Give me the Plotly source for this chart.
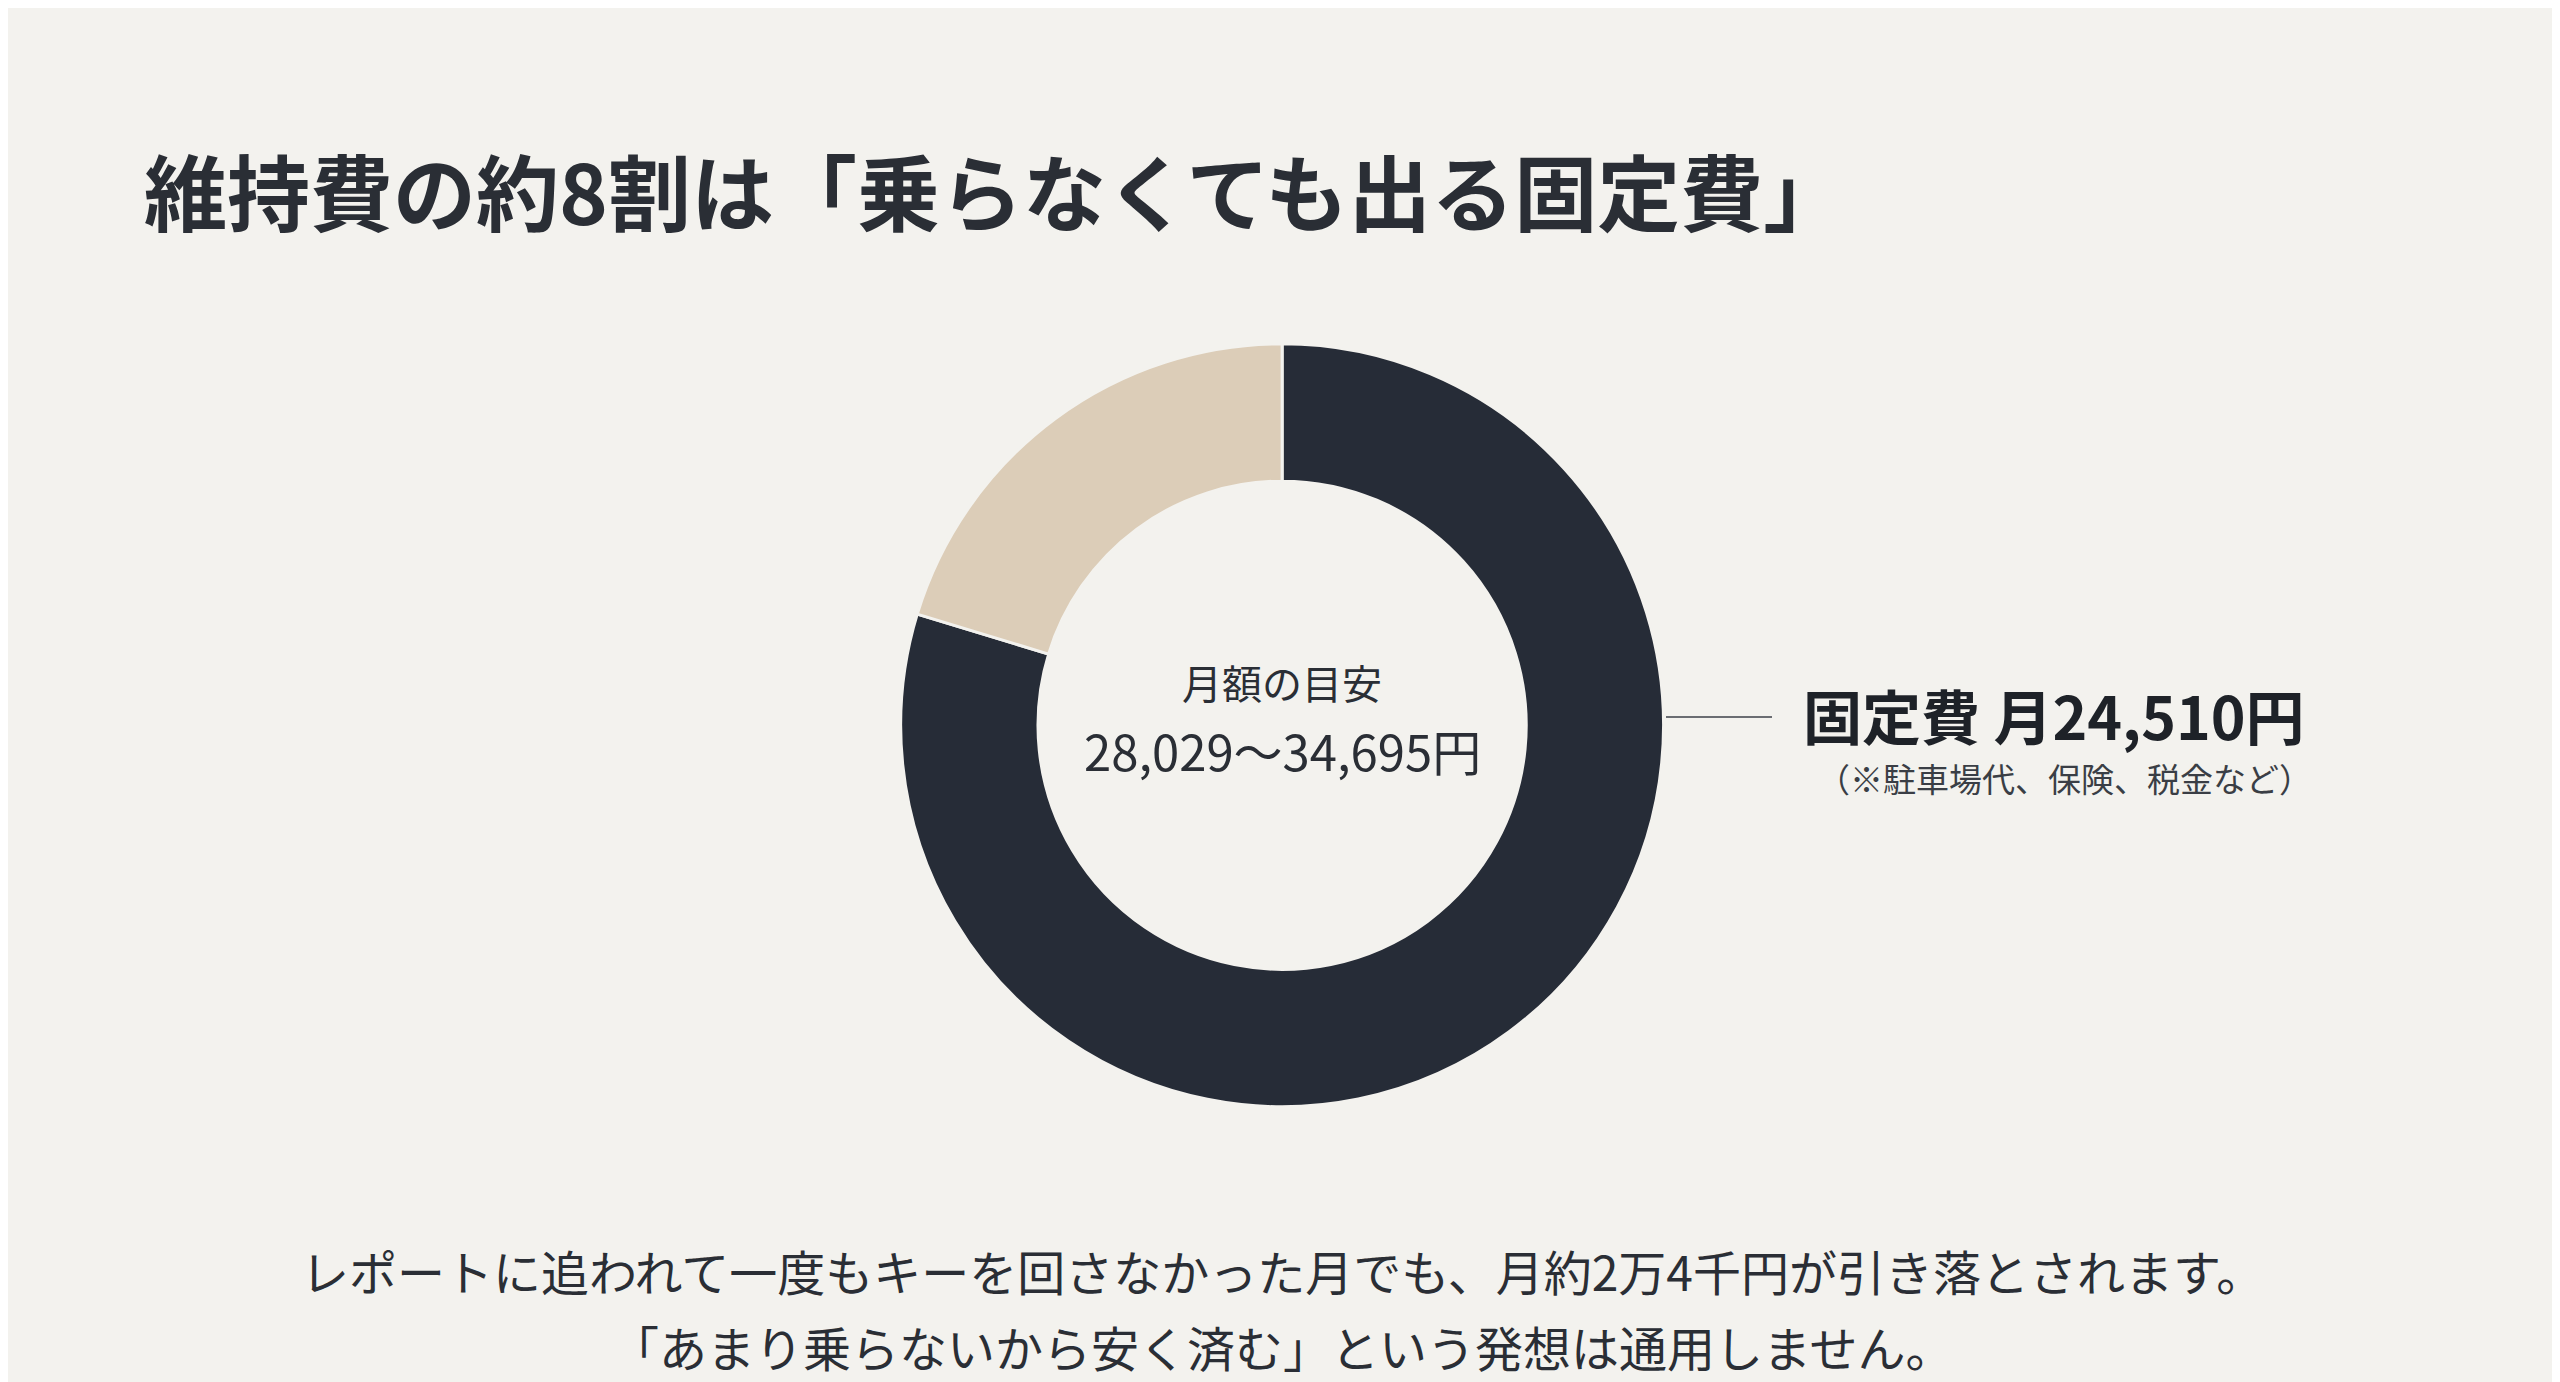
import plotly.graph_objects as go

# data
labels = ["固定費", "変動費"]
values = [24510, 6240]
colors = ["#262c37", "#dccdb8"]

W, H = 2560, 1382
bg = "#f3f2ee"
font = "Noto Sans CJK JP"

fig = go.Figure()
fig.add_trace(go.Pie(
    labels=labels, values=values, hole=0.64, sort=False,
    direction="clockwise", rotation=0,
    marker=dict(colors=colors, line=dict(color=bg, width=3)),
    textinfo="none", hoverinfo="label+value", showlegend=False,
    domain=dict(x=[0.3485, 0.6469], y=[0.205, 0.757]),
))

def px(x, y):
    return (x - 8) / W, 1 - (y - 4) / H

ann = []
tx, ty = px(142, 185)
ann.append(dict(x=tx, y=ty, text="<b>維持費の約8割は「乗らなくても出る固定費」</b>",
                xanchor="left", yanchor="middle", font=dict(size=83, color="#2a2e35")))
cx, cy = px(1282, 678)
ann.append(dict(x=cx, y=cy, text="月額の目安", xanchor="center", yanchor="middle",
                font=dict(size=40, color="#2a2e35")))
cx, cy = px(1282, 745)
ann.append(dict(x=cx, y=cy, text="28,029～34,695円", xanchor="center", yanchor="middle",
                font=dict(size=49, color="#2a2e35")))
lx, ly = px(1801, 710)
ann.append(dict(x=lx, y=ly, text="<b>固定費 月24,510円</b>", xanchor="left", yanchor="middle",
                font=dict(size=59, color="#1e2228")))
sx, sy = px(1815, 774)
ann.append(dict(x=sx, y=sy, text="（※駐車場代、保険、税金など）", xanchor="left", yanchor="middle",
                font=dict(size=33, color="#3a3e45")))
bx, by = px(1282, 1266)
ann.append(dict(x=bx, y=by, text="レポートに追われて一度もキーを回さなかった月でも、月約2万4千円が引き落とされます。",
                xanchor="center", yanchor="middle", font=dict(size=48, color="#2a2e35")))
bx, by = px(1282, 1342)
ann.append(dict(x=bx, y=by, text="「あまり乗らないから安く済む」という発想は通用しません。",
                xanchor="center", yanchor="middle", font=dict(size=48, color="#2a2e35")))
for a in ann:
    a.update(xref="paper", yref="paper", showarrow=False)

x0, y0 = px(1666, 713)
x1, _ = px(1772, 713)
fig.add_shape(type="line", xref="paper", yref="paper", x0=x0, x1=x1, y0=y0, y1=y0,
              line=dict(color="#6a6d72", width=2))

fig.update_layout(
    width=W, height=H, margin=dict(l=0, r=0, t=0, b=0),
    paper_bgcolor=bg, plot_bgcolor=bg,
    font=dict(family=font), annotations=ann,
)

fig.write_html("out.html")
